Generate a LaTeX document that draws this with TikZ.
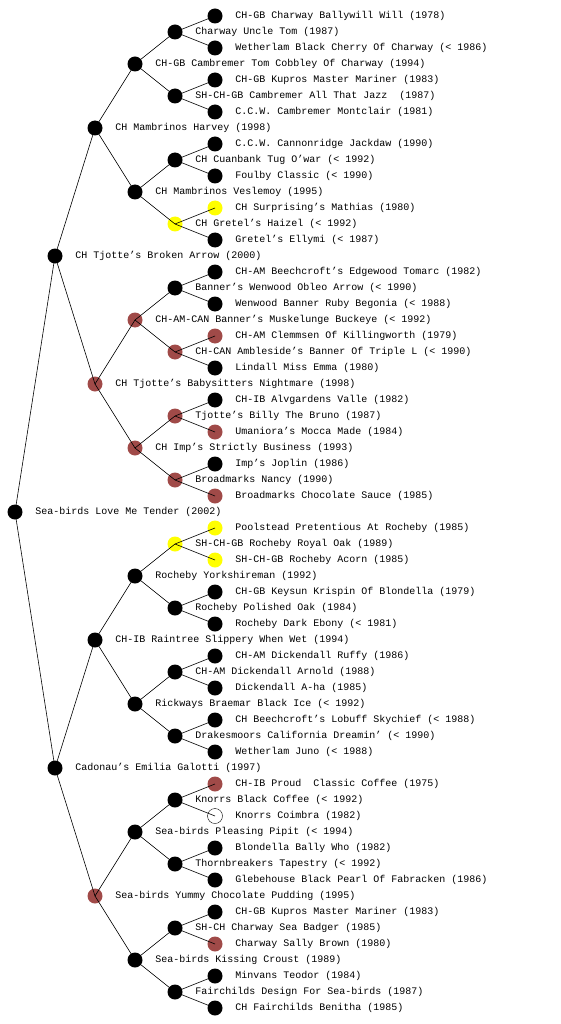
\documentclass[tikz,border=0pt]{standalone}
\usepackage{fontspec}
\setmonofont{Liberation Mono}
\usepackage{xcolor}
\usepackage{tikz}
\usetikzlibrary{positioning}
\definecolor{marrom}{HTML}{A04A48}
\definecolor{amarelo}{HTML}{FFFF00}

% um animal do pedigree: nome, x, y, estilo, texto
\newcommand{\animal}[5]{%
  \node[#4] (#1) at (#2,#3) {};
  \node[rotulo, right=12.5pt of #1] (t#1) {#5};}

\begin{document}
\begin{tikzpicture}[x=1pt, y=-1pt,
    base/.style={circle, minimum size=15pt, inner sep=0pt},
    preto/.style={base, fill=black},
    marrom/.style={base, fill=marrom},
    amarelo/.style={base, fill=amarelo},
    vazio/.style={base, draw=black, fill=none},
    rotulo/.style={inner sep=0pt, font=\ttfamily\fontsize{10}{12}\selectfont},
    linha/.style={black, line width=0.6pt}
]
    \useasboundingbox (0,0) rectangle (560,1024);

    \animal{r}{15}{512}{preto}{Sea-birds Love Me Tender (2002)}

    \animal{p}{55}{256}{preto}{CH Tjotte’s Broken Arrow (2000)}
    \animal{m}{55}{768}{preto}{Cadonau’s Emilia Galotti (1997)}

    \animal{pp}{95}{128}{preto}{CH Mambrinos Harvey (1998)}
    \animal{pm}{95}{384}{marrom}{CH Tjotte’s Babysitters Nightmare (1998)}
    \animal{mp}{95}{640}{preto}{CH-IB Raintree Slippery When Wet (1994)}
    \animal{mm}{95}{896}{marrom}{Sea-birds Yummy Chocolate Pudding (1995)}

    \animal{ppp}{135}{64}{preto}{CH-GB Cambremer Tom Cobbley Of Charway (1994)}
    \animal{ppm}{135}{192}{preto}{CH Mambrinos Veslemoy (1995)}
    \animal{pmp}{135}{320}{marrom}{CH-AM-CAN Banner’s Muskelunge Buckeye (< 1992)}
    \animal{pmm}{135}{448}{marrom}{CH Imp’s Strictly Business (1993)}
    \animal{mpp}{135}{576}{preto}{Rocheby Yorkshireman (1992)}
    \animal{mpm}{135}{704}{preto}{Rickways Braemar Black Ice (< 1992)}
    \animal{mmp}{135}{832}{preto}{Sea-birds Pleasing Pipit (< 1994)}
    \animal{mmm}{135}{960}{preto}{Sea-birds Kissing Croust (1989)}

    \animal{pppp}{175}{32}{preto}{Charway Uncle Tom (1987)}
    \animal{pppm}{175}{96}{preto}{SH-CH-GB Cambremer All That Jazz~ (1987)}
    \animal{ppmp}{175}{160}{preto}{CH Cuanbank Tug O’war (< 1992)}
    \animal{ppmm}{175}{224}{amarelo}{CH Gretel’s Haizel (< 1992)}
    \animal{pmpp}{175}{288}{preto}{Banner’s Wenwood Obleo Arrow (< 1990)}
    \animal{pmpm}{175}{352}{marrom}{CH-CAN Ambleside’s Banner Of Triple L (< 1990)}
    \animal{pmmp}{175}{416}{marrom}{Tjotte’s Billy The Bruno (1987)}
    \animal{pmmm}{175}{480}{marrom}{Broadmarks Nancy (1990)}
    \animal{mppp}{175}{544}{amarelo}{SH-CH-GB Rocheby Royal Oak (1989)}
    \animal{mppm}{175}{608}{preto}{Rocheby Polished Oak (1984)}
    \animal{mpmp}{175}{672}{preto}{CH-AM Dickendall Arnold (1988)}
    \animal{mpmm}{175}{736}{preto}{Drakesmoors California Dreamin’ (< 1990)}
    \animal{mmpp}{175}{800}{preto}{Knorrs Black Coffee (< 1992)}
    \animal{mmpm}{175}{864}{preto}{Thornbreakers Tapestry (< 1992)}
    \animal{mmmp}{175}{928}{preto}{SH-CH Charway Sea Badger (1985)}
    \animal{mmmm}{175}{992}{preto}{Fairchilds Design For Sea-birds (1987)}

    \animal{ppppp}{215}{16}{preto}{CH-GB Charway Ballywill Will (1978)}
    \animal{ppppm}{215}{48}{preto}{Wetherlam Black Cherry Of Charway (< 1986)}
    \animal{pppmp}{215}{80}{preto}{CH-GB Kupros Master Mariner (1983)}
    \animal{pppmm}{215}{112}{preto}{C.C.W. Cambremer Montclair (1981)}
    \animal{ppmpp}{215}{144}{preto}{C.C.W. Cannonridge Jackdaw (1990)}
    \animal{ppmpm}{215}{176}{preto}{Foulby Classic (< 1990)}
    \animal{ppmmp}{215}{208}{amarelo}{CH Surprising’s Mathias (1980)}
    \animal{ppmmm}{215}{240}{preto}{Gretel’s Ellymi (< 1987)}
    \animal{pmppp}{215}{272}{preto}{CH-AM Beechcroft’s Edgewood Tomarc (1982)}
    \animal{pmppm}{215}{304}{preto}{Wenwood Banner Ruby Begonia (< 1988)}
    \animal{pmpmp}{215}{336}{marrom}{CH-AM Clemmsen Of Killingworth (1979)}
    \animal{pmpmm}{215}{368}{preto}{Lindall Miss Emma (1980)}
    \animal{pmmpp}{215}{400}{preto}{CH-IB Alvgardens Valle (1982)}
    \animal{pmmpm}{215}{432}{marrom}{Umaniora’s Mocca Made (1984)}
    \animal{pmmmp}{215}{464}{preto}{Imp’s Joplin (1986)}
    \animal{pmmmm}{215}{496}{marrom}{Broadmarks Chocolate Sauce (1985)}
    \animal{mpppp}{215}{528}{amarelo}{Poolstead Pretentious At Rocheby (1985)}
    \animal{mpppm}{215}{560}{amarelo}{SH-CH-GB Rocheby Acorn (1985)}
    \animal{mppmp}{215}{592}{preto}{CH-GB Keysun Krispin Of Blondella (1979)}
    \animal{mppmm}{215}{624}{preto}{Rocheby Dark Ebony (< 1981)}
    \animal{mpmpp}{215}{656}{preto}{CH-AM Dickendall Ruffy (1986)}
    \animal{mpmpm}{215}{688}{preto}{Dickendall A-ha (1985)}
    \animal{mpmmp}{215}{720}{preto}{CH Beechcroft’s Lobuff Skychief (< 1988)}
    \animal{mpmmm}{215}{752}{preto}{Wetherlam Juno (< 1988)}
    \animal{mmppp}{215}{784}{marrom}{CH-IB Proud~ Classic Coffee (1975)}
    \animal{mmppm}{215}{816}{vazio}{Knorrs Coimbra (1982)}
    \animal{mmpmp}{215}{848}{preto}{Blondella Bally Who (1982)}
    \animal{mmpmm}{215}{880}{preto}{Glebehouse Black Pearl Of Fabracken (1986)}
    \animal{mmmpp}{215}{912}{preto}{CH-GB Kupros Master Mariner (1983)}
    \animal{mmmpm}{215}{944}{marrom}{Charway Sally Brown (1980)}
    \animal{mmmmp}{215}{976}{preto}{Minvans Teodor (1984)}
    \animal{mmmmm}{215}{1008}{preto}{CH Fairchilds Benitha (1985)}

    \draw[linha] (r.center) -- (p.center);
    \draw[linha] (r.center) -- (m.center);
    \foreach \n in {p,m,pp,pm,mp,mm,ppp,ppm,pmp,pmm,mpp,mpm,mmp,mmm,
                    pppp,pppm,ppmp,ppmm,pmpp,pmpm,pmmp,pmmm,
                    mppp,mppm,mpmp,mpmm,mmpp,mmpm,mmmp,mmmm} {
        \draw[linha] (\n.center) -- (\n p.center);
        \draw[linha] (\n.center) -- (\n m.center);
    }
\end{tikzpicture}
\end{document}
